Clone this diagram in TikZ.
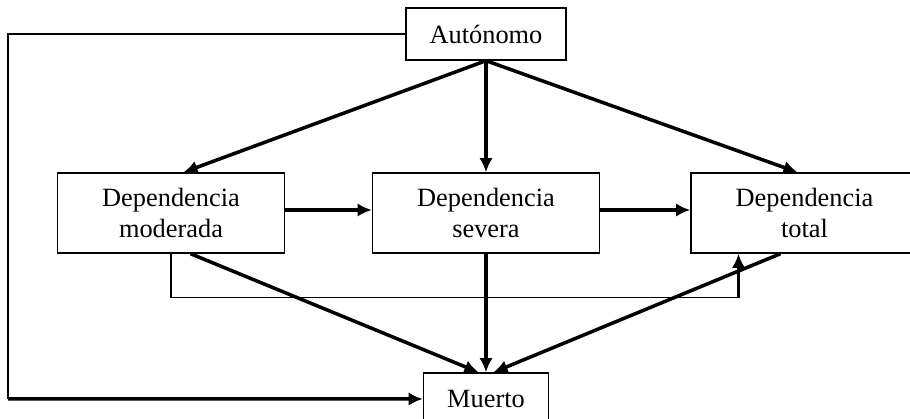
\documentclass[tikz,border=0pt]{standalone}
\usepackage{fontspec}
\setmainfont{Liberation Serif}
\usetikzlibrary{arrows.meta, positioning}

\begin{document}
\begin{tikzpicture}[node distance=3.58cm, font=\fontsize{15}{18}\selectfont]
\tikzstyle{estado} = [rectangle, minimum width=4.54cm, minimum height=1.6cm, text centered, align=center, draw=black, line width=0.8pt, inner sep=0pt]
\tikzstyle{extremo} = [rectangle, minimum height=1.04cm, text centered, draw=black, line width=0.8pt, inner sep=0pt]
\tikzstyle{flecha} = [-{Latex[length=8pt, width=7.5pt]}, line width=2pt]
\tikzstyle{linea} = [line width=0.8pt]

\useasboundingbox (0,0) rectangle (18.2,8.38);

% Initial state
\node (auto) [extremo, minimum width=3.2cm] at (9.72,7.7) {Autónomo};

% Dependency levels
\node (sev) [estado, below of=auto] {Dependencia\\severa};
\node (mod) [estado, left of=sev, node distance=6.3cm] {Dependencia\\moderada};
\node (tot) [estado, right of=sev, node distance=6.37cm] {Dependencia\\total};

% Absorbing state
\node (mue) [extremo, minimum width=2.5cm, below of=sev, node distance=3.72cm] {Muerto};

% Transitions from the initial state
\draw[flecha] (auto.south) -- ([xshift=0.25cm]mod.north);
\draw[flecha] (auto.south) -- (sev.north);
\draw[flecha] (auto.south) -- ([xshift=-0.14cm]tot.north);

% Worsening
\draw[flecha] ([yshift=0.06cm]mod.east) -- ([yshift=0.06cm]sev.west);
\draw[flecha] ([yshift=0.06cm]sev.east) -- ([yshift=0.06cm]tot.west);
\draw[linea] (mod.south) -- ++(0,-0.88) coordinate (salto) -| ([xshift=-1.32cm,yshift=-0.88cm]tot.south) coordinate (subida);
\draw[flecha] (subida) -- ([xshift=-1.32cm]tot.south);

% Transitions to death
\draw[flecha] ([xshift=0.39cm]mod.south) -- ([xshift=-0.15cm]mue.north);
\draw[flecha] (sev.south) -- (mue.north);
\draw[flecha] ([xshift=-0.48cm]tot.south) -- ([xshift=0.15cm]mue.north);
\draw[linea] (auto.west) -- (0.16,7.7) coordinate (esquina) -- (0.16,0.4) coordinate (base);
\draw[flecha] (base) -- (mue.west);

\end{tikzpicture}
\end{document}
